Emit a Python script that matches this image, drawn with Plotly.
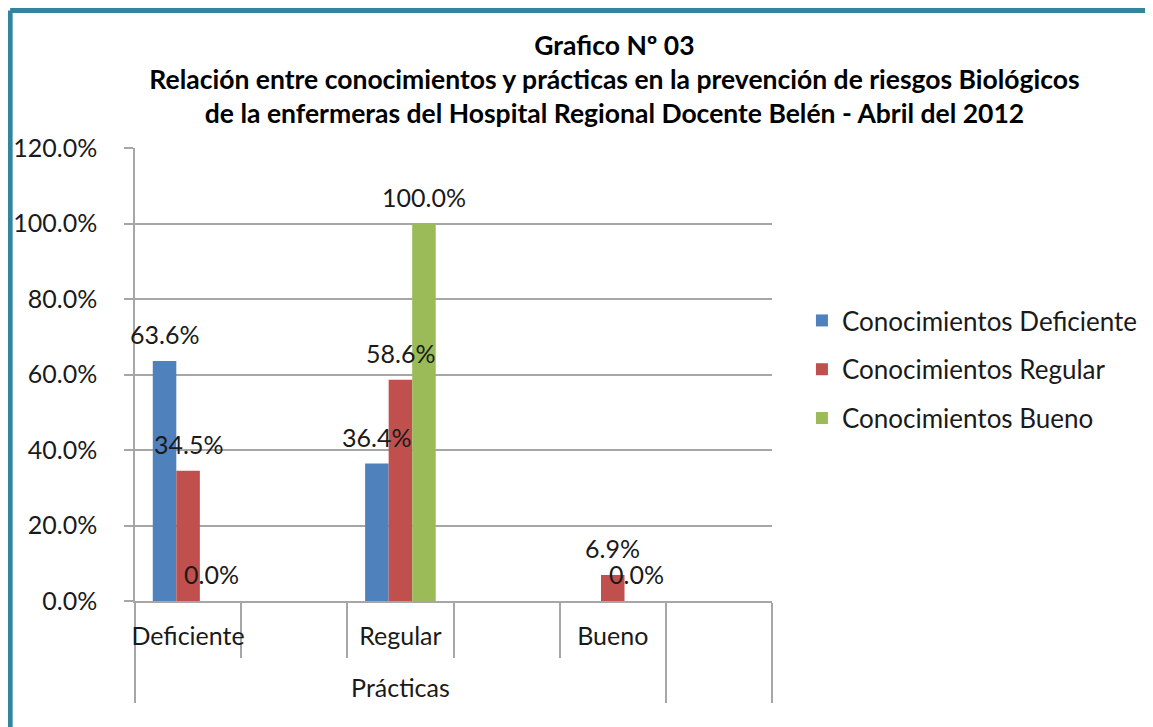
import plotly.graph_objects as go

# ---- data ----
practicas = ["Deficiente", "Regular", "Bueno"]
outer_label = "Prácticas"
series_names = ["Conocimientos Deficiente", "Conocimientos Regular", "Conocimientos Bueno"]
con_deficiente = [63.6, 36.4, None]
con_regular = [34.5, 58.6, 6.9]
con_bueno = [0.0, 100.0, 0.0]
colors = ["#4F81BD", "#C0504D", "#9BBB59"]
y_ticks = [0, 20, 40, 60, 80, 100, 120]
title_lines = ["Grafico Nº 03",
               "Relación entre conocimientos y prácticas en la prevención de riesgos Biológicos",
               "de la enfermeras del Hospital Regional Docente Belén - Abril del 2012"]

# Excel-style layout: each category followed by an empty slot
inner = []
outer = []
for i, p in enumerate(practicas):
    inner += [p, " " * (i + 1)]
    outer += ["<br>" + outer_label, "<br>" + outer_label]
outer[-1] = "<br> "

def expand(vals):
    out = []
    for v in vals:
        out += [v, None]
    return out

FONT = "Lato, Open Sans, sans-serif"
TXT = "#1a1a1a"
fig = go.Figure()
all_series = [con_deficiente, con_regular, con_bueno]
for name, vals, col in zip(series_names, all_series, colors):
    fig.add_trace(go.Bar(
        x=[outer, inner], y=expand(vals), name=name,
        marker=dict(color=col, line=dict(width=0)),
        legendgroup=name,
    ))

# data labels
bar_px = 23.5
annotations = []
for s, vals in enumerate(all_series):
    for i, v in enumerate(vals):
        if v is None:
            continue
        annotations.append(dict(
            x=2 * i, y=v, xref="x", yref="y", text=f"{v:.1f}%",
            showarrow=False, xshift=(s - 1) * bar_px, yshift=27,
            yanchor="middle", font=dict(family=FONT, size=25, color=TXT),
        ))

# page body has an 8px default margin, so offsets are compensated
fig.update_layout(
    width=1153, height=727,
    margin=dict(l=127, r=389, t=140, b=134, autoexpand=False),
    paper_bgcolor="white", plot_bgcolor="white",
    barmode="group", bargap=0.335, bargroupgap=0,
    title=dict(text="<br>".join(f"<b>{t}</b>" for t in title_lines),
               x=0.526, xref="container", xanchor="center",
               y=0.936, yref="container", yanchor="top",
               font=dict(family=FONT, size=26.5, color="#000000")),
    font=dict(family=FONT, size=25, color=TXT),
    legend=dict(x=1.047, y=0.671, xanchor="left", yanchor="top",
                font=dict(family=FONT, size=26, color=TXT),
                tracegroupgap=12, bgcolor="rgba(0,0,0,0)"),
    annotations=annotations,
    showlegend=True,
)
fig.update_yaxes(range=[0, 120], tickvals=y_ticks, ticktext=[f"{v:.1f}%" for v in y_ticks],
                 automargin=False,
                 showgrid=True, gridcolor="#A6A6A6", gridwidth=1.5,
                 showline=True, linecolor="#A6A6A6", linewidth=1.5,
                 ticks="outside", ticklen=9, tickcolor="#A6A6A6", tickwidth=1.5,
                 ticklabelstandoff=22, zeroline=False,
                 tickfont=dict(family=FONT, size=25, color=TXT))
fig.update_xaxes(type="multicategory", automargin=False, tickangle=0,
                 range=[-0.5, len(inner) - 0.5],
                 showline=True, linecolor="#A6A6A6", linewidth=1.5,
                 ticks="outside", ticklen=55, tickcolor="#A6A6A6", tickwidth=1.5,
                 tickson="boundaries", ticklabelstandoff=12,
                 showdividers=True, dividercolor="#A6A6A6", dividerwidth=1.5,
                 tickfont=dict(family=FONT, size=25, color=TXT))

# teal frame on left and top (Excel chart border)
teal = "#31859C"
fig.add_shape(type="line", xref="paper", yref="paper", x0=-0.196, x1=-0.196, y0=-0.3, y1=1.3035,
              line=dict(color=teal, width=5))
fig.add_shape(type="line", xref="paper", yref="paper", x0=-0.196, x1=1.62, y0=1.3035, y1=1.3035,
              line=dict(color=teal, width=5))

fig.write_html("out.html")
